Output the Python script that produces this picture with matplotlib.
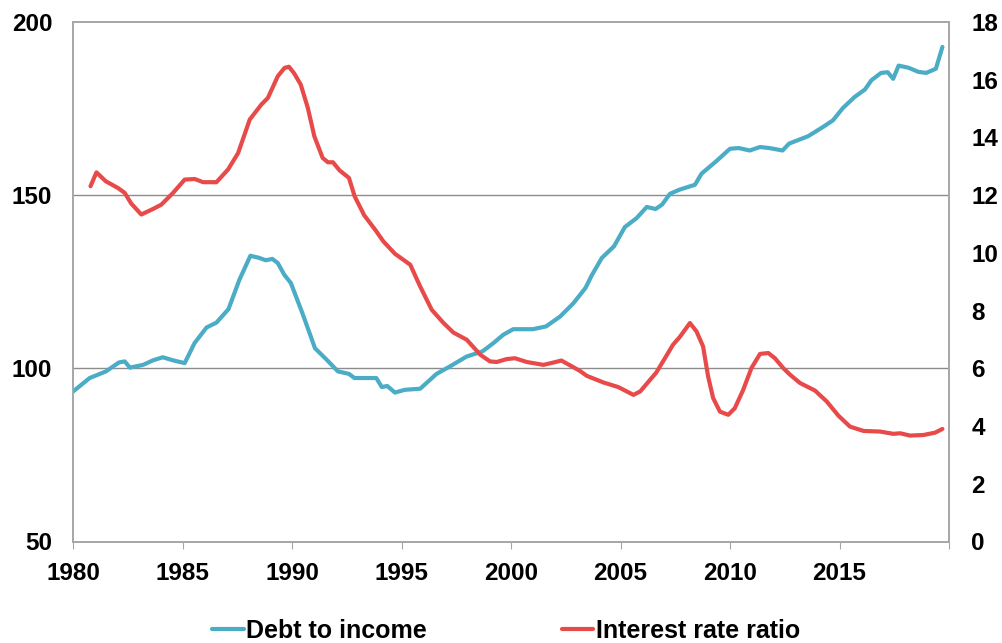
import matplotlib
matplotlib.use("Agg")
import matplotlib.pyplot as plt

plt.rcParams["font.family"] = ["Liberation Sans", "DejaVu Sans"]
plt.rcParams["font.weight"] = "bold"

# Debt to income (left axis)
debt_years = [1980.0, 1980.76, 1981.5, 1982.1, 1982.36, 1982.6, 1983.2, 1983.65, 1984.1, 1984.57,
              1985.1, 1985.55, 1986.1, 1986.55, 1987.1, 1987.6, 1988.1, 1988.5, 1988.8, 1989.1,
              1989.35, 1989.65, 1989.95, 1990.5, 1991.05, 1991.55, 1992.1, 1992.6, 1992.85, 1993.85,
              1994.1, 1994.35, 1994.7, 1995.15, 1995.85, 1996.6, 1997.2, 1997.97, 1998.7, 1999.2,
              1999.65, 2000.1, 2001.0, 2001.6, 2002.25, 2002.85, 2003.4, 2003.7, 2004.15, 2004.7,
              2005.2, 2005.74, 2006.2, 2006.6, 2006.9, 2007.26, 2007.7, 2008.4, 2008.7, 2009.37,
              2010.0, 2010.4, 2010.9, 2011.37, 2011.8, 2012.4, 2012.7, 2013.56, 2014.25, 2014.7,
              2015.16, 2015.7, 2016.16, 2016.46, 2016.9, 2017.2, 2017.45, 2017.7, 2018.15, 2018.6,
              2018.96, 2019.4, 2019.7]
debt_values = [93.3, 97.2, 99.1, 101.7, 102.0, 100.2, 101.0, 102.3, 103.2, 102.3,
               101.5, 107.3, 111.8, 113.2, 117.1, 125.6, 132.5, 131.9, 131.2, 131.6,
               130.4, 127.0, 124.6, 115.5, 105.8, 102.7, 99.1, 98.4, 97.2, 97.2,
               94.6, 94.9, 93.0, 93.8, 94.1, 98.4, 100.5, 103.4, 104.9, 107.3,
               109.7, 111.3, 111.3, 112.1, 115.0, 118.8, 123.2, 127.0, 131.9, 135.2,
               140.8, 143.4, 146.6, 146.0, 147.3, 150.4, 151.6, 153.0, 156.2, 159.8,
               163.4, 163.6, 162.9, 163.9, 163.6, 162.9, 164.9, 167.0, 169.7, 171.6,
               175.2, 178.4, 180.5, 183.2, 185.3, 185.5, 183.6, 187.4, 186.8, 185.6,
               185.3, 186.5, 192.8]

# Interest rate ratio (right axis)
rate_years = [1980.8, 1981.07, 1981.5, 1982.05, 1982.36, 1982.66, 1983.12, 1983.65, 1984.03, 1984.57,
              1985.1, 1985.56, 1985.94, 1986.55, 1987.08, 1987.54, 1988.07, 1988.6, 1988.9, 1989.35,
              1989.66, 1989.86, 1990.1, 1990.4, 1990.72, 1991.02, 1991.4, 1991.64, 1991.87, 1992.17,
              1992.6, 1992.86, 1993.3, 1993.8, 1994.17, 1994.7, 1995.4, 1995.85, 1996.38, 1996.92,
              1997.37, 1997.98, 1998.6, 1999.04, 1999.35, 1999.8, 2000.18, 2000.72, 2001.48, 2001.93,
              2002.3, 2002.75, 2003.15, 2003.46, 2004.22, 2004.9, 2005.59, 2005.9, 2006.64, 2007.4,
              2007.7, 2008.17, 2008.47, 2008.77, 2009.0, 2009.23, 2009.54, 2009.92, 2010.22, 2010.6,
              2010.98, 2011.37, 2011.75, 2012.05, 2012.43, 2012.74, 2013.2, 2013.88, 2014.42, 2014.95,
              2015.48, 2016.1, 2016.85, 2017.46, 2017.77, 2018.22, 2018.83, 2019.36, 2019.7]
rate_values = [12.31, 12.79, 12.48, 12.25, 12.08, 11.71, 11.33, 11.52, 11.67, 12.08,
               12.54, 12.56, 12.45, 12.45, 12.89, 13.46, 14.62, 15.14, 15.37, 16.12,
               16.41, 16.45, 16.22, 15.83, 15.03, 14.04, 13.29, 13.14, 13.14, 12.86,
               12.6, 11.96, 11.3, 10.8, 10.4, 9.97, 9.59, 8.84, 8.03, 7.57,
               7.24, 6.99, 6.47, 6.24, 6.22, 6.32, 6.35, 6.22, 6.12, 6.2,
               6.27, 6.08, 5.91, 5.74, 5.51, 5.35, 5.08, 5.2, 5.86, 6.82,
               7.08, 7.57, 7.28, 6.76, 5.72, 4.97, 4.5, 4.39, 4.62, 5.25,
               6.01, 6.5, 6.53, 6.35, 6.01, 5.78, 5.49, 5.23, 4.85, 4.36,
               3.98, 3.83, 3.81, 3.73, 3.75, 3.67, 3.69, 3.77, 3.9]

x_ticks = [1980, 1985, 1990, 1995, 2000, 2005, 2010, 2015, 2020]
x_labels = ["1980", "1985", "1990", "1995", "2000", "2005", "2010", "2015", ""]
left_ticks = [50, 100, 150, 200]
right_ticks = [0, 2, 4, 6, 8, 10, 12, 14, 16, 18]

TEAL = "#4BACC6"
RED = "#E84A4A"
SPINE = "#A6A6A6"
FS = 17.5

fig = plt.figure(figsize=(10.03, 6.43), dpi=100)
ax = fig.add_axes([73 / 1003, 1 - 541.5 / 643, 876 / 1003, 519.5 / 643])
ax2 = ax.twinx()

ax.plot(debt_years, debt_values, color=TEAL, lw=3, solid_joinstyle="round",
        solid_capstyle="round", label="Debt to income")
ax2.plot(rate_years, rate_values, color=RED, lw=3, solid_joinstyle="round",
         solid_capstyle="round", label="Interest rate ratio")

ax.set_xlim(1980, 2020)
ax.set_ylim(50, 200)
ax2.set_ylim(0, 18)

for y in [100, 150]:
    ax.axhline(y, color="#8C8C8C", lw=1, zorder=0)

ax.set_xticks(x_ticks)
ax.set_xticklabels(x_labels)
ax.set_yticks(left_ticks)
ax2.set_yticks(right_ticks)

ax.tick_params(axis="x", direction="out", length=5, color=SPINE, pad=10, labelsize=FS)
ax.tick_params(axis="y", length=0, pad=15, labelsize=FS)
ax2.tick_params(axis="y", length=0, pad=16, labelsize=FS)

for a in (ax, ax2):
    for s in a.spines.values():
        s.set_color(SPINE)
        s.set_linewidth(1.2)

h1, l1 = ax.get_legend_handles_labels()
h2, l2 = ax2.get_legend_handles_labels()
fig.legend(h1 + h2, l1 + l2, loc="center", bbox_to_anchor=(506 / 1003, 1 - 631 / 643),
           ncol=2, frameon=False, fontsize=18, handlelength=1.25, handletextpad=0.1,
           columnspacing=5.4)

fig.savefig("out.png", dpi=100)
